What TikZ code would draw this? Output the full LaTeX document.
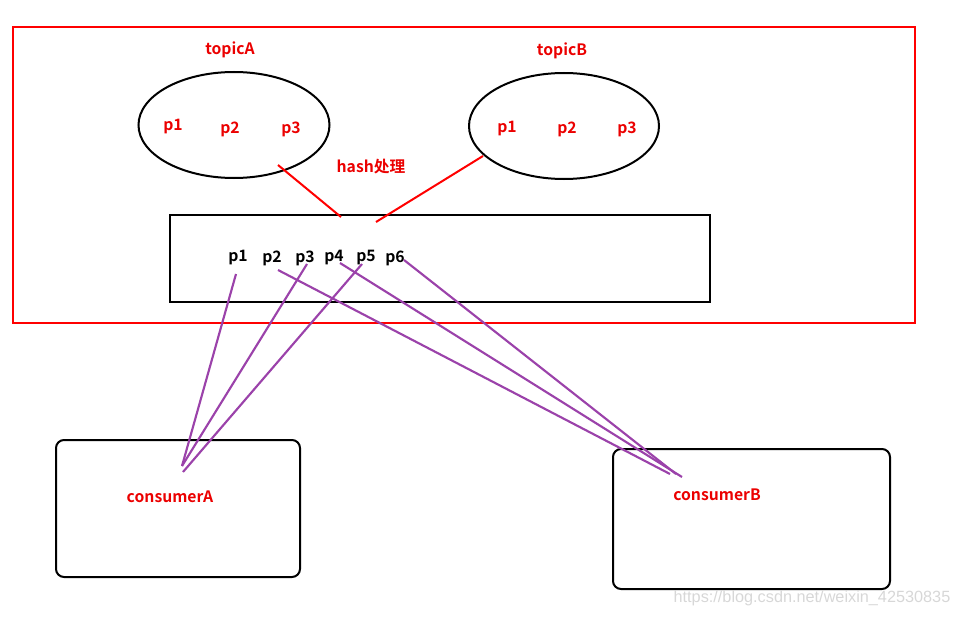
\documentclass[tikz,border=0pt]{standalone}
\usepackage{fontspec}
\setmainfont{Noto Sans CJK SC}[BoldFont={Noto Sans CJK SC Bold}]
\setsansfont{Liberation Sans}
\usetikzlibrary{shapes.geometric}
\definecolor{lnpurple}{RGB}{155,66,170}
\definecolor{txtred}{RGB}{235,0,0}
\definecolor{wmgray}{RGB}{215,215,215}
\tikzset{
  blk/.style={draw=black,line width=1.5pt},
  redbox/.style={draw=red,line width=1.5pt},
  rlbl/.style={text=txtred,font=\bfseries\fontsize{11.8}{13}\selectfont,inner sep=0pt},
  blbl/.style={text=black,font=\bfseries\fontsize{11.8}{13}\selectfont,inner sep=0pt},
  rline/.style={draw=red,line width=1.5pt},
  pline/.style={draw=lnpurple,line width=1.6pt},
  topic/.style={blk,ellipse,inner sep=0pt},
  cons/.style={blk,rounded corners=6pt,inner sep=0pt}
}
\begin{document}
\begin{tikzpicture}[x=0.75pt,y=-0.75pt]
\useasboundingbox (0,0) rectangle (957,617);
% outer red frame
\node[redbox,minimum width=902*0.75pt,minimum height=296*0.75pt,inner sep=0pt] (frame) at (464,175) {};
% topics
\node[topic,minimum width=191*0.75pt,minimum height=106*0.75pt] (ta) at (234,125) {};
\node[topic,minimum width=190*0.75pt,minimum height=106*0.75pt] (tb) at (564,126) {};
\node[rlbl] (tal) at (230,50) {topicA};
\node[rlbl] (tbl) at (562,51) {topicB};
\node[rlbl] (a1) at (173,127) {p1};
\node[rlbl] (a2) at (230,129) {p2};
\node[rlbl] (a3) at (291,129) {p3};
\node[rlbl] (b1) at (507,129) {p1};
\node[rlbl] (b2) at (567,129) {p2};
\node[rlbl] (b3) at (627,129) {p3};
\node[rlbl] (hash) at (371,167) {hash处理};
% middle box
\node[blk,minimum width=540*0.75pt,minimum height=87*0.75pt,inner sep=0pt] (mid) at (440,258.5) {};
\node[blbl] (m1) at (238,258) {p1};
\node[blbl] (m2) at (272,258) {p2};
\node[blbl] (m3) at (305,258) {p3};
\node[blbl] (m4) at (334,258) {p4};
\node[blbl] (m5) at (366,258) {p5};
\node[blbl] (m6) at (395,258) {p6};
% red connectors
\coordinate (ra1) at (278,165);
\coordinate (ra2) at (341,217);
\coordinate (rb1) at (483,156);
\coordinate (rb2) at (376,222);
\draw[rline] (ra1) -- (ra2);
\draw[rline] (rb1) -- (rb2);
% consumers
\node[cons,minimum width=244*0.75pt,minimum height=137*0.75pt] (ca) at (178,508.5) {};
\node[cons,minimum width=277*0.75pt,minimum height=140*0.75pt] (cb) at (751.5,519) {};
\node[rlbl] (cal) at (170,497) {consumerA};
\node[rlbl] (cbl) at (717,495) {consumerB};
% purple connectors
\coordinate (s1) at (236,274);
\coordinate (s2) at (278,270);
\coordinate (s3) at (307,264);
\coordinate (s4) at (340,263);
\coordinate (s5) at (362,264);
\coordinate (s6) at (404,260);
\coordinate (ea1) at (182,466);
\coordinate (ea2) at (183,472);
\coordinate (eb1) at (670,474);
\coordinate (eb2) at (682,477);
\coordinate (eb3) at (676,474);
\draw[pline] (s1) -- (ea1);
\draw[pline] (s3) -- (ea1);
\draw[pline] (s5) -- (ea2);
\draw[pline] (s2) -- (eb1);
\draw[pline] (s4) -- (eb2);
\draw[pline] (s6) -- (eb3);
% watermark
\node[text=wmgray,font=\sffamily\fontsize{12.2}{13}\selectfont,inner sep=0pt] (wm) at (812,598) {https://blog.csdn.net/weixin\_42530835};
\end{tikzpicture}
\end{document}
